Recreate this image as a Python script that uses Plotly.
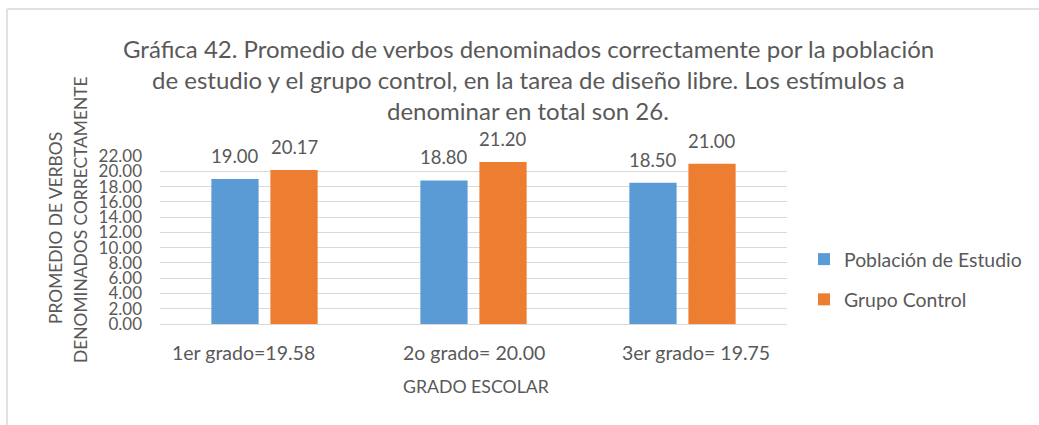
import plotly.graph_objects as go

categories = ["1er grado=19.58", "2o grado= 20.00", "3er grado= 19.75"]
poblacion = [19.00, 18.80, 18.50]
control = [20.17, 21.20, 21.00]
series_names = ["Población de Estudio", "Grupo Control"]
colors = ["#5B9BD5", "#ED7D31"]
y_ticks = [0, 2, 4, 6, 8, 10, 12, 14, 16, 18, 20, 22]
title_lines = ["Gráfica 42. Promedio de verbos denominados correctamente por la población",
               "de estudio y el grupo control, en la tarea de diseño libre. Los estímulos a",
               "denominar en total son 26."]
y_title_lines = ["PROMEDIO DE VERBOS", "DENOMINADOS CORRECTAMENTE"]
x_title = "GRADO ESCOLAR"

FONT = "Lato, Carlito, Calibri, sans-serif"
TXT = "#595959"
W, H = 1039, 425
L, R, T, B = 160, 252, 156, 101
PW, PH = W - L - R, H - T - B


def px(x):
    return (x - L) / PW


def py(y):
    return 1 - (y - T) / PH


fig = go.Figure()
for name, vals, col, grp in [(series_names[0], poblacion, colors[0], "a"),
                             (series_names[1], control, colors[1], "b")]:
    fig.add_trace(go.Bar(x=categories, y=vals, name=name, marker_color=col,
                         marker_line_width=0, legendgroup=grp))

# data labels
for vals, shift in [(poblacion, -29.5), (control, 29.5)]:
    for c, v in zip(categories, vals):
        fig.add_annotation(x=c, y=v, xref="x", yref="y", text=f"{v:.2f}",
                           showarrow=False, xshift=shift, yshift=23,
                           font=dict(size=18.5, color=TXT, family=FONT))

# category labels (placed under each category)
for c, shift in zip(categories, [-21, 0, 13]):
    fig.add_annotation(x=c, y=py(352), xref="x", yref="paper", text=c, showarrow=False,
                       xshift=shift, yanchor="middle",
                       font=dict(size=19.5, color=TXT, family=FONT))

# title
for i, line in enumerate(title_lines):
    fig.add_annotation(x=px(528), y=py(48 + 31 * i), xref="paper", yref="paper",
                       text=line, showarrow=False, xanchor="center", yanchor="middle",
                       font=dict(size=24, color=TXT, family=FONT))

# y axis title (two rotated lines)
for xpos, ypos, txt in [(55, 228, y_title_lines[0]), (80, 220, y_title_lines[1])]:
    fig.add_annotation(x=px(xpos), y=py(ypos), xref="paper", yref="paper", text=txt,
                       showarrow=False, textangle=-90, xanchor="center", yanchor="middle",
                       font=dict(size=17.4, color=TXT, family=FONT))

# x axis title
fig.add_annotation(x=px(476), y=py(386), xref="paper", yref="paper", text=x_title,
                   showarrow=False, xanchor="center", yanchor="middle",
                   font=dict(size=17.7, color=TXT, family=FONT))

# outer border (top and left edges visible)
border = dict(color="#D9D9D9", width=1.5)
fig.add_shape(type="line", xref="paper", yref="paper", x0=px(7), x1=px(W + 5),
              y0=py(9), y1=py(9), line=border)
fig.add_shape(type="line", xref="paper", yref="paper", x0=px(7), x1=px(7),
              y0=py(9), y1=py(H + 5), line=border)

fig.update_layout(
    width=W, height=H,
    margin=dict(l=L, r=R, t=T, b=B, autoexpand=False),
    paper_bgcolor="white", plot_bgcolor="white",
    barmode="group", bargap=0.435, bargroupgap=0.2,
    font=dict(family=FONT, color=TXT),
    showlegend=True,
    legend=dict(x=px(804), y=py(240), xanchor="left", yanchor="top",
                orientation="v", traceorder="grouped", tracegroupgap=12,
                font=dict(size=19.4, color=TXT, family=FONT), itemwidth=30,
                bgcolor="rgba(0,0,0,0)"),
)

fig.update_yaxes(range=[0, 22], tickvals=y_ticks, ticktext=[f"{v:.2f}" for v in y_ticks],
                 showgrid=True, gridcolor="#D9D9D9", gridwidth=1, zeroline=True,
                 zerolinecolor="#D9D9D9", zerolinewidth=1, showline=False,
                 tickfont=dict(size=17, color=TXT, family=FONT), ticklabelstandoff=17)
fig.update_xaxes(showline=False, showticklabels=False, ticks="")

fig.write_html("out.html", config={"displayModeBar": False},
               post_script="document.body.style.margin='0px';")
